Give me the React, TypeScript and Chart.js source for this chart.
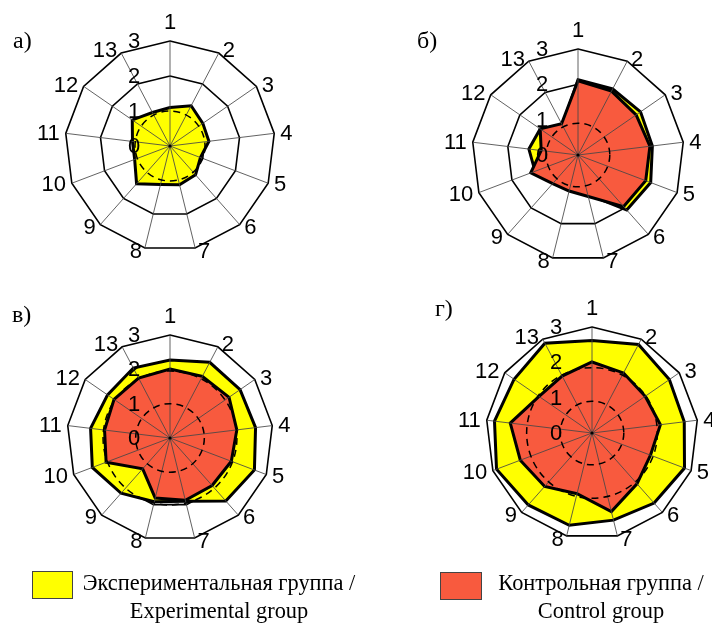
import React, { useEffect, useRef } from 'react';
import { Chart, registerables } from 'chart.js';

Chart.register(...registerables);

// ---- data ----
const axisLabels = ['1', '2', '3', '4', '5', '6', '7', '8', '9', '10', '11', '12', '13'];

// а) experimental group only
const expA = [1.1, 1.3, 1.14, 1.12, 0.93, 1.1, 1.14, 1.13, 1.44, 1.08, 1.08, 1.31, 1.08];
// б)
const expB = [2.13, 2.11, 2.15, 2.12, 2.2, 2.08, 1.15, 1.0, 1.0, 1.3, 1.4, 1.3, 0.95];
const ctrlB = [2.1, 2.04, 2.0, 2.05, 2.05, 1.95, 1.21, 1.05, 1.08, 1.43, 1.05, 1.3, 1.0];
// в)
const expV = [2.27, 2.49, 2.48, 2.51, 2.63, 2.45, 1.9, 1.91, 2.15, 2.42, 2.33, 2.21, 2.3];
const ctrlV = [2.01, 2.03, 2.09, 1.96, 1.91, 1.85, 1.87, 1.8, 1.2, 1.99, 1.92, 1.98, 1.97];
// г)
const expG = [2.62, 2.83, 2.66, 2.63, 2.8, 2.65, 2.54, 2.69, 2.72, 2.89, 2.78, 2.68, 2.87];
const ctrlG = [2.01, 1.92, 1.83, 1.95, 1.77, 1.92, 2.29, 1.77, 2.02, 2.17, 2.33, 1.82, 1.82];

// dashed reference circles (values on the radial scale)
const dashA = [1.0];
const dashB = [0.9];
const dashV = [1.0, 1.95];
const dashG = [0.9, 1.85];

const scaleMin = 0;
const scaleMax = 3;
const scaleStep = 1;

const panelLetters = ['а)', 'б)', 'в)', 'г)'];
const legendExp = ['Экспериментальная группа /', 'Experimental group'];
const legendCtrl = ['Контрольная группа /', 'Control group'];

// ---- styles ----
const YELLOW = '#FFFF00';
const RED = '#F85A3E';
const PAD = 45;
const SANS = '"Liberation Sans", Arial, sans-serif';
const SERIF = '"Liberation Serif", "Times New Roman", serif';

function overlayPlugin(dashed: number[]) {
  return {
    id: 'overlay',
    afterDatasetsDraw(chart: any) {
      const s = chart.scales.r;
      const ctx = chart.ctx as CanvasRenderingContext2D;
      const labels = chart.data.labels as string[];
      const n = labels.length;
      const outer = s.getDistanceFromCenterForValue(s.max);
      ctx.save();
      // angle lines on top of fills
      ctx.strokeStyle = 'rgba(70,70,70,0.85)';
      ctx.lineWidth = 1;
      for (let i = 0; i < n; i++) {
        const p = s.getPointPosition(i, outer);
        ctx.beginPath();
        ctx.moveTo(s.xCenter, s.yCenter);
        ctx.lineTo(p.x, p.y);
        ctx.stroke();
      }
      ctx.fillStyle = '#000';
      ctx.beginPath();
      ctx.arc(s.xCenter, s.yCenter, 1.6, 0, Math.PI * 2);
      ctx.fill();
      // dashed circles
      ctx.strokeStyle = '#000';
      ctx.lineWidth = 1.5;
      ctx.setLineDash([7, 5]);
      dashed.forEach((v) => {
        ctx.beginPath();
        ctx.arc(s.xCenter, s.yCenter, s.getDistanceFromCenterForValue(v), 0, Math.PI * 2);
        ctx.stroke();
      });
      ctx.setLineDash([]);
      // tick labels
      ctx.font = `22px ${SANS}`;
      ctx.fillStyle = '#000';
      ctx.textAlign = 'center';
      ctx.textBaseline = 'middle';
      s.ticks.forEach((t: any) => {
        const d = s.getDistanceFromCenterForValue(t.value);
        ctx.fillText(String(t.label), s.xCenter - 36, s.yCenter - d + 1);
      });
      // point labels
      for (let i = 0; i < n; i++) {
        const a = (i * 2 * Math.PI) / n;
        const sin = Math.sin(a);
        const cos = Math.cos(a);
        const p = s.getPointPosition(i, outer);
        if (i === 0) {
          ctx.textAlign = 'center';
          ctx.textBaseline = 'alphabetic';
          ctx.fillText(labels[i], p.x, p.y - 12);
        } else {
          const gap = 2 + 4 * Math.abs(sin);
          ctx.textAlign = sin > 0 ? 'left' : 'right';
          ctx.textBaseline = 'middle';
          ctx.fillText(labels[i], p.x + (sin > 0 ? gap : -gap), p.y - cos * 3 + 1);
        }
      }
      ctx.restore();
    },
  };
}

type PanelProps = {
  cx: number;
  cy: number;
  r: number;
  exp: number[];
  ctrl?: number[];
  dashed: number[];
};

function RadarPanel({ cx, cy, r, exp, ctrl, dashed }: PanelProps) {
  const ref = useRef<HTMLCanvasElement>(null);
  useEffect(() => {
    if (!ref.current) return;
    const datasets: any[] = [];
    if (ctrl) {
      datasets.push({
        label: legendCtrl[0],
        data: ctrl,
        backgroundColor: RED,
        borderColor: '#000',
        borderWidth: 3,
        pointRadius: 0,
        fill: true,
        order: 1,
      });
    }
    datasets.push({
      label: legendExp[0],
      data: exp,
      backgroundColor: YELLOW,
      borderColor: '#000',
      borderWidth: 3,
      pointRadius: 0,
      fill: true,
      order: 2,
    });
    const chart = new Chart(ref.current, {
      type: 'radar',
      data: { labels: axisLabels, datasets },
      options: {
        responsive: false,
        animation: false,
        devicePixelRatio: 1,
        layout: { padding: PAD },
        plugins: { legend: { display: false }, tooltip: { enabled: false } },
        elements: { line: { tension: 0, borderJoinStyle: 'miter' } },
        scales: {
          r: {
            min: scaleMin,
            max: scaleMax,
            ticks: { stepSize: scaleStep, display: false },
            pointLabels: { display: false },
            grid: { color: '#000', lineWidth: 1.6, circular: false },
            angleLines: { display: false },
          },
        },
      } as any,
      plugins: [overlayPlugin(dashed)],
    });
    return () => chart.destroy();
  }, []);
  const size = 2 * (r + PAD);
  return (
    <canvas
      ref={ref}
      width={size}
      height={size}
      style={{
        position: 'absolute',
        left: Math.round(cx - r - PAD),
        top: Math.round(cy - r - PAD),
        width: size,
        height: size,
      }}
    />
  );
}

const letterStyle = (left: number, top: number): React.CSSProperties => ({
  position: 'absolute',
  left,
  top,
  font: `24px ${SERIF}`,
  lineHeight: '24px',
  color: '#000',
  whiteSpace: 'nowrap',
});

const legendTextStyle = (centerX: number): React.CSSProperties => ({
  position: 'absolute',
  left: centerX - 170,
  width: 340,
  top: 569,
  textAlign: 'center',
  font: `22.4px ${SERIF}`,
  lineHeight: '28px',
  color: '#000',
  whiteSpace: 'nowrap',
});

export default function App() {
  return (
    <div
      style={{
        position: 'absolute',
        left: 0,
        top: 0,
        width: 712,
        height: 623,
        background: '#fff',
        overflow: 'hidden',
      }}
    >
      <RadarPanel cx={170} cy={146} r={105} exp={expA} dashed={dashA} />
      <RadarPanel cx={578} cy={155} r={106} exp={expB} ctrl={ctrlB} dashed={dashB} />
      <RadarPanel cx={170} cy={438} r={103} exp={expV} ctrl={ctrlV} dashed={dashV} />
      <RadarPanel cx={592} cy={433} r={106} exp={expG} ctrl={ctrlG} dashed={dashG} />

      <div style={letterStyle(13, 28)}>{panelLetters[0]}</div>
      <div style={letterStyle(417, 28)}>{panelLetters[1]}</div>
      <div style={letterStyle(12, 302)}>{panelLetters[2]}</div>
      <div style={letterStyle(435, 296)}>{panelLetters[3]}</div>

      <div
        style={{
          position: 'absolute',
          left: 32,
          top: 571,
          width: 41,
          height: 28,
          background: YELLOW,
          border: '1px solid #444',
          boxSizing: 'border-box',
        }}
      />
      <div style={legendTextStyle(219)}>
        {legendExp[0]}
        <br />
        {legendExp[1]}
      </div>
      <div
        style={{
          position: 'absolute',
          left: 440,
          top: 572,
          width: 42,
          height: 28,
          background: RED,
          border: '1px solid #444',
          boxSizing: 'border-box',
        }}
      />
      <div style={legendTextStyle(601)}>
        {legendCtrl[0]}
        <br />
        {legendCtrl[1]}
      </div>
    </div>
  );
}
